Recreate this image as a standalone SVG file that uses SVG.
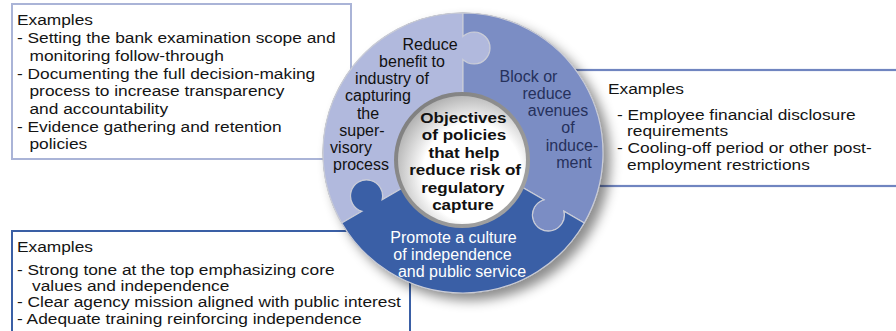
<svg xmlns="http://www.w3.org/2000/svg" xmlns:xlink="http://www.w3.org/1999/xlink" width="896" height="331" viewBox="0 0 896 331">
<style>
.bx{font-family:"Liberation Sans",Arial,sans-serif;font-size:15.2px;fill:#141414}
.seg{font-family:"Liberation Sans",Arial,sans-serif;font-size:16px;text-anchor:middle}
.ctr{font-family:"Liberation Sans",Arial,sans-serif;font-size:15.5px;font-weight:bold;text-anchor:middle;fill:#111}
.piece{stroke:#c9ccd8;stroke-width:1.2}
</style>
<defs>
<filter id="sh" x="-20%" y="-20%" width="150%" height="150%">
<feDropShadow dx="7" dy="7" stdDeviation="6" flood-color="#000" flood-opacity="0.45"/>
</filter>
<radialGradient id="hole" cx="0.58" cy="0.6" r="0.62">
<stop offset="0" stop-color="#ffffff"/>
<stop offset="0.62" stop-color="#ffffff"/>
<stop offset="1" stop-color="#b4b4b4"/>
</radialGradient>
<linearGradient id="rim" x1="0" y1="0" x2="1" y2="1">
<stop offset="0" stop-color="#7a7a7a"/>
<stop offset="1" stop-color="#a8a8a8"/>
</linearGradient>
<path id="piece" d="M0,0 L-80.89,46.70 A16,16 0 1 0 -100.98,58.30 L-121.24,70 A140,140 0 0 1 0,-140 L0,-116.6 A16,16 0 1 1 0,-93.4 Z"/>
</defs>
<rect width="896" height="331" fill="#ffffff"/>

<g id="box-top-left">
<rect x="12" y="4" width="339" height="155" fill="#ffffff" stroke="#aab4d7" stroke-width="2"/>
<g transform="translate(17,0) scale(1.14,1)">
<text class="bx" x="0" y="25.5">Examples</text>
<text class="bx" x="0" y="43.5">- Setting the bank examination scope and</text>
<text class="bx" x="10.96" y="61">monitoring follow-through</text>
<text class="bx" x="0" y="79">- Documenting the full decision-making</text>
<text class="bx" x="10.96" y="96.5">process to increase transparency</text>
<text class="bx" x="10.96" y="114">and accountability</text>
<text class="bx" x="0" y="132">- Evidence gathering and retention</text>
<text class="bx" x="10.96" y="149.5">policies</text>
</g>
</g>

<g id="box-right">
<rect x="560" y="70" width="350" height="116" fill="#ffffff" stroke="#7085c0" stroke-width="2.2"/>
<g transform="translate(608,0) scale(1.14,1)">
<text class="bx" x="0" y="94">Examples</text>
<text class="bx" x="7.9" y="120.5">- Employee financial disclosure</text>
<text class="bx" x="16.7" y="136.5">requirements</text>
<text class="bx" x="7.9" y="153">- Cooling-off period or other post-</text>
<text class="bx" x="16.7" y="170">employment restrictions</text>
</g>
</g>

<g id="box-bottom-left">
<rect x="12" y="231" width="398" height="112" fill="#ffffff" stroke="#3a5fa5" stroke-width="2"/>
<g transform="translate(17,0) scale(1.14,1)">
<text class="bx" x="0" y="252">Examples</text>
<text class="bx" x="0" y="275.5">- Strong tone at the top emphasizing core</text>
<text class="bx" x="13.2" y="291.5">values and independence</text>
<text class="bx" x="0" y="307.5">- Clear agency mission aligned with public interest</text>
<text class="bx" x="0" y="324">- Adequate training reinforcing independence</text>
</g>
</g>

<g id="ring">
<circle cx="463" cy="153" r="140.5" fill="#8e8e8e" filter="url(#sh)"/>
<g transform="translate(463,153)">
<use xlink:href="#piece" href="#piece" class="piece" fill="#b1b9dd"/>
<use xlink:href="#piece" href="#piece" class="piece" fill="#7b8dc4" transform="rotate(120)"/>
<use xlink:href="#piece" href="#piece" class="piece" fill="#3a5fa6" transform="rotate(240)"/>
</g>
</g>

<g id="piece-reduce-benefit">
<text class="seg" fill="#111" x="430" y="49.5">Reduce</text>
<text class="seg" fill="#111" x="412" y="67">benefit to</text>
<text class="seg" fill="#111" x="392" y="84">industry of</text>
<text class="seg" fill="#111" x="378" y="101">capturing</text>
<text class="seg" fill="#111" x="368" y="118.5">the</text>
<text class="seg" fill="#111" x="362" y="136">super-</text>
<text class="seg" fill="#111" x="351" y="153">visory</text>
<text class="seg" fill="#111" x="361" y="170">process</text>
</g>

<g id="piece-block-inducement">
<text class="seg" fill="#26315c" x="528.5" y="82">Block or</text>
<text class="seg" fill="#26315c" x="547" y="99">reduce</text>
<text class="seg" fill="#26315c" x="558" y="116">avenues</text>
<text class="seg" fill="#26315c" x="568" y="133">of</text>
<text class="seg" fill="#26315c" x="572" y="150.5">induce-</text>
<text class="seg" fill="#26315c" x="574" y="167.5">ment</text>
</g>

<g id="piece-promote-culture">
<text class="seg" fill="#ffffff" x="453.5" y="243">Promote a culture</text>
<text class="seg" fill="#ffffff" x="452.5" y="260">of independence</text>
<text class="seg" fill="#ffffff" x="462" y="277">and public service</text>
</g>

<g id="center-objectives">
<circle cx="462" cy="160" r="68" fill="url(#rim)"/>
<circle cx="462" cy="160" r="64" fill="url(#hole)"/>
<g transform="translate(464,0) scale(1.1,1)">
<text class="ctr" x="-0.5" y="123">Objectives</text>
<text class="ctr" x="0" y="140.5">of policies</text>
<text class="ctr" x="0" y="158">that help</text>
<text class="ctr" x="1" y="175.5">reduce risk of</text>
<text class="ctr" x="-1" y="193">regulatory</text>
<text class="ctr" x="-1" y="210">capture</text>
</g>
</g>
</svg>
